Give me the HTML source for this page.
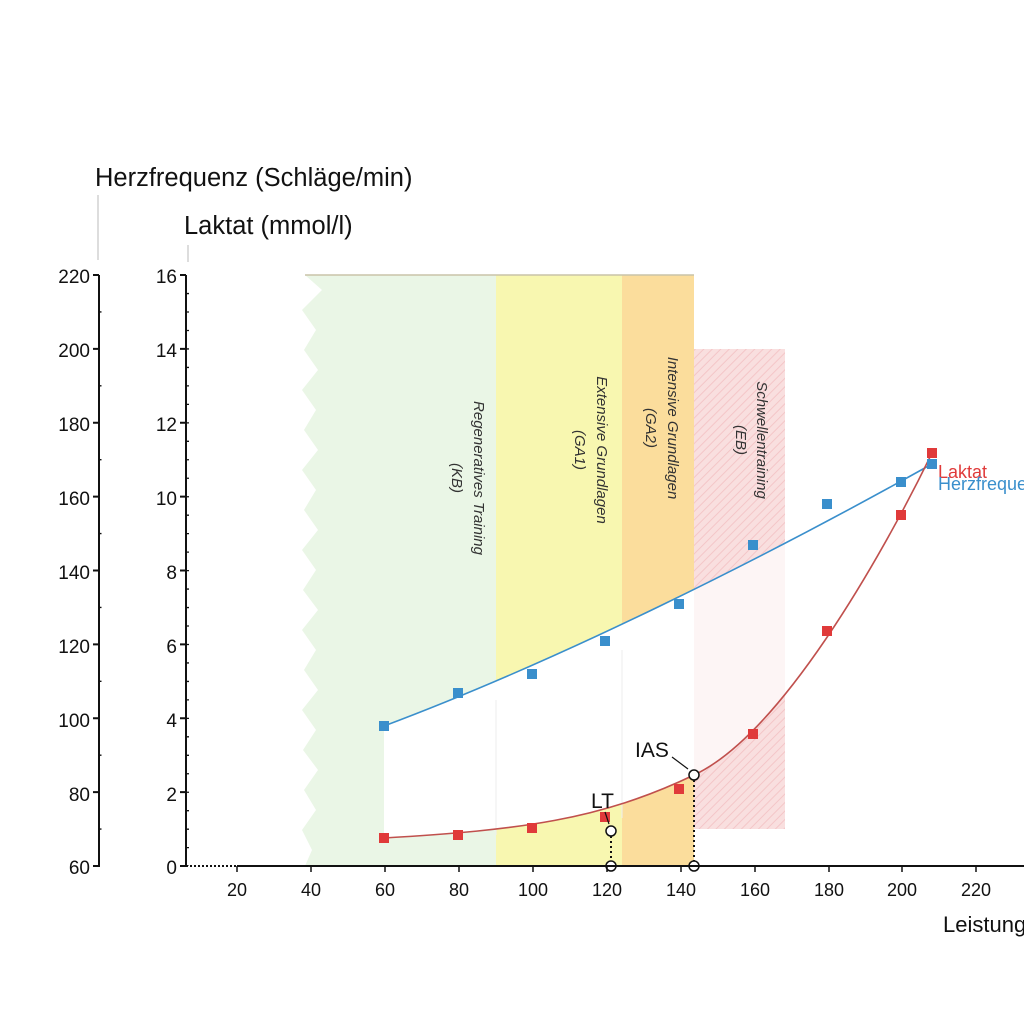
<!DOCTYPE html>
<html><head><meta charset="utf-8"><style>
html,body{margin:0;padding:0;background:#fff}
svg{display:block}
text{font-family:"Liberation Sans",sans-serif}
</style></head><body>
<svg width="1024" height="1024" viewBox="0 0 1024 1024" xmlns="http://www.w3.org/2000/svg">
<defs>
<pattern id="hatch" width="6" height="6" patternUnits="userSpaceOnUse" patternTransform="rotate(45)">
<rect width="6" height="6" fill="#fbe4e4"/>
<line x1="0" y1="0" x2="0" y2="6" stroke="#f4c6c8" stroke-width="2"/>
</pattern>
</defs>
<polygon fill="#eaf6e6" points="305,275 496,275 496,866 305,866 312,850 302,830 316,810 304,790 318,770 303,750 316,730 302,710 318,690 304,670 316,650 302,630 318,610 303,590 316,570 302,550 318,530 304,510 316,490 302,470 318,450 304,430 316,410 302,390 318,370 304,350 316,330 302,310 322,290"/>
<rect x="496" y="275" width="126" height="591" fill="#f8f7b0"/>
<rect x="622" y="275" width="72" height="591" fill="#fbdd9c"/>
<line x1="305" y1="275" x2="694" y2="275" stroke="#c9c3a8" stroke-width="1.5"/>
<rect x="694" y="349" width="91" height="480" fill="url(#hatch)"/>
<path d="M384,726 C560,660 760,560 927,464 L932,453 C880,560 780,735 694,775 C600,820 520,830 384,838 Z" fill="#fff"/>
<rect x="694" y="349" width="91" height="480" fill="#f6c8c8" opacity="0.18"/>
<line x1="496" y1="700" x2="496" y2="835" stroke="#eee" stroke-width="1"/>
<line x1="622" y1="650" x2="622" y2="818" stroke="#eee" stroke-width="1"/>
<g font-size="15" font-style="italic" fill="#333" text-anchor="middle">
<text transform="translate(474,478) rotate(90)">Regeneratives Training</text>
<text transform="translate(452,478) rotate(90)">(KB)</text>
<text transform="translate(597,450) rotate(90)">Extensive Grundlagen</text>
<text transform="translate(575,450) rotate(90)">(GA1)</text>
<text transform="translate(668,428) rotate(90)">Intensive Grundlagen</text>
<text transform="translate(646,428) rotate(90)">(GA2)</text>
<text transform="translate(757,440) rotate(90)">Schwellentraining</text>
<text transform="translate(736,440) rotate(90)">(EB)</text>
</g>
<path d="M384,726 C560,660 760,560 932,464" fill="none" stroke="#3a8fcc" stroke-width="1.6"/>
<path d="M384,838 C520,830 600,820 694,775 C780,735 880,560 932,453" fill="none" stroke="#c0504d" stroke-width="1.6"/>
<g fill="#3a8fcc">
<rect x="379" y="721" width="10" height="10"/><rect x="453" y="688" width="10" height="10"/><rect x="527" y="669" width="10" height="10"/><rect x="600" y="636" width="10" height="10"/><rect x="674" y="599" width="10" height="10"/><rect x="748" y="540" width="10" height="10"/><rect x="822" y="499" width="10" height="10"/><rect x="896" y="477" width="10" height="10"/><rect x="927" y="459" width="10" height="10"/>
</g>
<g fill="#e03a3a">
<rect x="379" y="833" width="10" height="10"/><rect x="453" y="830" width="10" height="10"/><rect x="527" y="823" width="10" height="10"/><rect x="600" y="812" width="10" height="10"/><rect x="674" y="784" width="10" height="10"/><rect x="748" y="729" width="10" height="10"/><rect x="822" y="626" width="10" height="10"/><rect x="896" y="510" width="10" height="10"/><rect x="927" y="448" width="10" height="10"/>
</g>
<text x="938" y="478" font-size="18" fill="#e03a3a">Laktat</text>
<text x="938" y="490" font-size="18" fill="#3a8fcc">Herzfrequenz</text>
<line x1="611" y1="831" x2="611" y2="866" stroke="#111" stroke-width="2" stroke-dasharray="2,3"/>
<line x1="694" y1="775" x2="694" y2="866" stroke="#111" stroke-width="2" stroke-dasharray="2,3"/>
<line x1="605" y1="812" x2="609" y2="824" stroke="#111" stroke-width="1.2"/>
<line x1="672" y1="757" x2="688" y2="769" stroke="#111" stroke-width="1.2"/>
<text x="591" y="808" font-size="21" fill="#111">LT</text>
<text x="635" y="757" font-size="21" fill="#111">IAS</text>
<g fill="#fff" stroke="#111" stroke-width="1.5">
<circle cx="611" cy="831" r="5"/><circle cx="694" cy="775" r="5"/><circle cx="611" cy="866" r="5"/><circle cx="694" cy="866" r="5"/>
</g>
<g stroke="#111" fill="none">
<line x1="99" y1="275" x2="99" y2="867" stroke-width="2"/>
<line x1="186" y1="275" x2="186" y2="867" stroke-width="2"/>
<line x1="237" y1="866" x2="1024" y2="866" stroke-width="2"/>
<line x1="186" y1="866" x2="237" y2="866" stroke-width="2" stroke-dasharray="2,2"/>
<line x1="96" y1="274" x2="96" y2="870" stroke-width="6" stroke-dasharray="2,71.875"/>
<line x1="183" y1="274" x2="183" y2="870" stroke-width="6" stroke-dasharray="2,71.875"/>
<line x1="100" y1="311.3" x2="100" y2="866" stroke-width="3" stroke-dasharray="1.3,72.575"/>
<line x1="187.5" y1="292.9" x2="187.5" y2="866" stroke-width="3" stroke-dasharray="1.3,17.17"/>
<line x1="237" y1="866" x2="237" y2="872" stroke-width="1.5"/><line x1="311" y1="866" x2="311" y2="872" stroke-width="1.5"/><line x1="385" y1="866" x2="385" y2="872" stroke-width="1.5"/><line x1="459" y1="866" x2="459" y2="872" stroke-width="1.5"/><line x1="533" y1="866" x2="533" y2="872" stroke-width="1.5"/><line x1="607" y1="866" x2="607" y2="872" stroke-width="1.5"/><line x1="681" y1="866" x2="681" y2="872" stroke-width="1.5"/><line x1="755" y1="866" x2="755" y2="872" stroke-width="1.5"/><line x1="829" y1="866" x2="829" y2="872" stroke-width="1.5"/><line x1="902" y1="866" x2="902" y2="872" stroke-width="1.5"/><line x1="976" y1="866" x2="976" y2="872" stroke-width="1.5"/>
</g>
<g font-size="19" fill="#111" text-anchor="end">
<text x="90" y="283">220</text><text x="90" y="357">200</text><text x="90" y="431">180</text><text x="90" y="505">160</text><text x="90" y="579">140</text><text x="90" y="653">120</text><text x="90" y="727">100</text><text x="90" y="801">80</text><text x="90" y="874">60</text>
<text x="177" y="283">16</text><text x="177" y="357">14</text><text x="177" y="431">12</text><text x="177" y="505">10</text><text x="177" y="579">8</text><text x="177" y="653">6</text><text x="177" y="727">4</text><text x="177" y="801">2</text><text x="177" y="874">0</text>
</g>
<g font-size="18" fill="#111" text-anchor="middle">
<text x="237" y="896">20</text><text x="311" y="896">40</text><text x="385" y="896">60</text><text x="459" y="896">80</text><text x="533" y="896">100</text><text x="607" y="896">120</text><text x="681" y="896">140</text><text x="755" y="896">160</text><text x="829" y="896">180</text><text x="902" y="896">200</text><text x="976" y="896">220</text>
</g>
<text x="943" y="932" font-size="22" fill="#111">Leistung</text>
<text x="95" y="186" font-size="25.5" fill="#111">Herzfrequenz (Schläge/min)</text>
<text x="184" y="234" font-size="25.5" fill="#111">Laktat (mmol/l)</text>
<line x1="98" y1="195" x2="98" y2="260" stroke="#bbb" stroke-width="1"/>
<line x1="188" y1="245" x2="188" y2="262" stroke="#bbb" stroke-width="1"/>
</svg>
</body></html>
